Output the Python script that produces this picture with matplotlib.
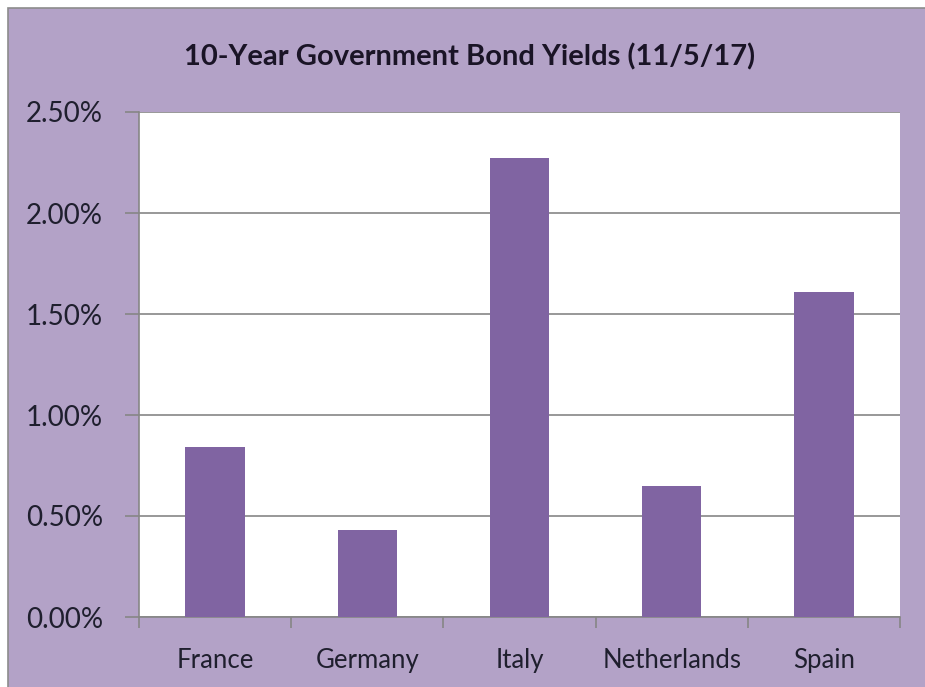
import matplotlib
matplotlib.use("Agg")
import matplotlib.pyplot as plt
from matplotlib.patches import Rectangle
from matplotlib.ticker import FuncFormatter

countries = ["France", "Germany", "Italy", "Netherlands", "Spain"]
yields = [0.84, 0.43, 2.27, 0.65, 1.61]

bg = "#B3A2C7"
bar_color = "#8064A2"
grid_color = "#868686"

plt.rcParams['font.family'] = ['Lato', 'DejaVu Sans']

W, H = 925, 687
fig = plt.figure(figsize=(W / 100, H / 100), dpi=100, facecolor="white")
# purple chart area, offset slightly from top-left like the screenshot
fig.patches.append(Rectangle((8 / W, -0.1), 1.2, (H - 8) / H + 0.1, transform=fig.transFigure,
                             facecolor=bg, edgecolor="#8c8c8c", linewidth=1.2, zorder=-10))

ax = fig.add_axes([139 / W, (H - 617) / H, (900 - 139) / W, (617 - 112) / H])
ax.set_facecolor("white")

x = range(len(countries))
ax.bar(x, yields, width=0.39, color=bar_color, zorder=3)

ax.set_xlim(-0.5, len(countries) - 0.5)
ax.set_ylim(0, 2.5)
ax.set_yticks([0, 0.5, 1.0, 1.5, 2.0, 2.5])
ax.yaxis.set_major_formatter(FuncFormatter(lambda v, p: f"{v:.2f}%"))
ax.set_xticks(list(x))
ax.set_xticklabels(countries)
ax.set_xticks([i - 0.5 for i in range(len(countries) + 1)], minor=True)

ax.grid(axis="y", color=grid_color, linewidth=1.2, zorder=1)
for s in ["top", "right"]:
    ax.spines[s].set_visible(False)
for s in ["left", "bottom"]:
    ax.spines[s].set_color(grid_color)
    ax.spines[s].set_linewidth(1.2)

ax.tick_params(axis="y", length=10, width=1.2, color=grid_color, labelsize=20,
               labelcolor="#1f1f2e", pad=16)
ax.tick_params(axis="x", which="major", length=0, labelsize=18.5,
               labelcolor="#1f1f2e", pad=22)
ax.tick_params(axis="x", which="minor", length=8, width=1.2, color=grid_color)

fig.text(470 / W, (H - 57) / H, "10-Year Government Bond Yields (11/5/17)",
         ha="center", va="center", fontsize=21, fontweight="bold", color="#1a1426")

fig.savefig("out.png", dpi=100, facecolor="white")
